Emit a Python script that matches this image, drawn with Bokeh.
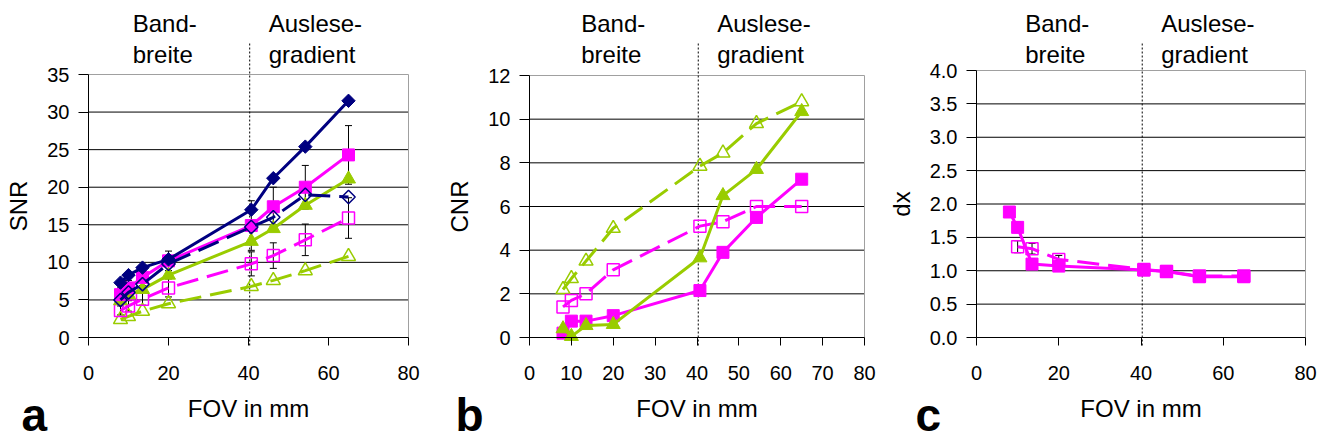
from bokeh.plotting import figure
from bokeh.layouts import row
from bokeh.models import (FixedTicker, NumeralTickFormatter, Range1d, Label, Whisker,
                          TeeHead, ColumnDataSource)
from bokeh.embed import file_html
from bokeh.resources import INLINE
import math

# ---------------- data ----------------
fov = [8, 10, 13.5, 20, 40.7, 46.2, 54.2, 65]
fov_split = 40.3

# panel a: SNR
snr_navy_filled = [7.3, 8.3, 9.3, 10.4, 17.0, 21.2, 25.4, 31.5]
snr_navy_open = [5.0, 6.0, 7.1, 9.8, 14.7, 16.0, 19.0, 18.7]
snr_mag_filled = [5.7, 6.6, 8.0, 10.2, 14.9, 17.4, 20.0, 24.3]
snr_mag_filled_err = [0.9, 1.0, 1.1, 1.3, 3.3, 2.6, 2.9, 3.9]
snr_mag_open = [3.6, 4.2, 5.1, 6.6, 9.8, 10.9, 13.0, 15.9]
snr_mag_open_err = [0.6, 0.7, 0.8, 1.2, 1.6, 1.7, 2.1, 2.7]
snr_grn_filled = [4.9, 5.7, 6.4, 8.3, 12.8, 14.5, 17.6, 21.1]
snr_grn_open = [2.4, 2.8, 3.5, 4.5, 6.8, 7.6, 8.9, 10.8]

# panel b: CNR
cnr_grn_open = [2.2, 2.7, 3.5, 5.0, 7.85, 8.45, 9.8, 10.8]
cnr_grn_filled = [0.4, 0.05, 0.55, 0.6, 3.65, 6.5, 7.7, 10.35]
cnr_mag_open = [1.4, 1.7, 2.0, 3.1, 5.1, 5.3, 6.0, 6.0]
cnr_mag_filled = [0.2, 0.75, 0.75, 1.0, 2.15, 3.9, 5.5, 7.25]

# panel c: dx
dx_filled = [1.88, 1.65, 1.1, 1.07, 1.01, 0.99, 0.91, 0.91]
dx_filled_err = [0.08, 0.08, 0.08, 0.08, 0.08, 0.06, 0.06, 0.06]
fov_dx_open = [10, 13.5, 20, 40.7, 46.2, 54.2, 65]
dx_open = [1.36, 1.33, 1.17, 1.02, 0.99, 0.92, 0.92]
dx_open_err = [0.09, 0.08, 0.06, 0.05, 0.05, 0.05, 0.05]

xticks_a = [0, 20, 40, 60, 80]
xticks_b = [0, 10, 20, 30, 40, 50, 60, 70, 80]
yticks_a = [0, 5, 10, 15, 20, 25, 30, 35]
yticks_b = [0, 2, 4, 6, 8, 10, 12]
yticks_c = [0, 0.5, 1.0, 1.5, 2.0, 2.5, 3.0, 3.5, 4.0]

x_label = "FOV in mm"
left_note = "Band-\nbreite"
right_note = "Auslese-\ngradient"

# ---------------- style ----------------
FONT = "Liberation Sans"
NAVY = "#000080"
MAG = "#FF00FF"
GRN = "#99CC00"
GRAY = "#A0A0A0"
H = 443
AXIS_Y = 337
DASH = "22 9"


def make_panel(offset, width, frame_left, frame_right, y_top_px, xmax, ymax,
               xticks, yticks, ylabel, fmt=None):
    pxu_x = (frame_right - frame_left) / xmax
    pxu_y = (AXIS_Y - y_top_px) / ymax
    left_px = frame_left - offset
    right_px = offset + width - frame_right
    p = figure(width=width, height=H,
               x_range=Range1d(-left_px / pxu_x, xmax + right_px / pxu_x),
               y_range=Range1d(-(H - AXIS_Y) / pxu_y, ymax + y_top_px / pxu_y),
               min_border=0,
               output_backend="svg", toolbar_location=None,
               outline_line_color=None, background_fill_color="white",
               border_fill_color="white")
    p.xgrid.visible = False
    p.ygrid.visible = False

    for ax in (p.xaxis[0], p.yaxis[0]):
        ax.fixed_location = 0
        ax.axis_line_color = "black"
        ax.axis_line_width = 1
        ax.major_tick_line_color = "black"
        ax.minor_tick_line_color = None
        ax.major_tick_in = 0
        ax.major_label_text_font = FONT
        ax.major_label_text_font_size = "20px"
        ax.major_label_text_color = "black"
        ax.axis_label_text_font = FONT
        ax.axis_label_text_font_size = "24px"
        ax.axis_label_text_font_style = "normal"
        ax.axis_label_text_color = "black"
    xa = p.xaxis[0]
    xa.ticker = FixedTicker(ticks=xticks)
    xa.bounds = (0, xmax)
    xa.major_tick_out = 8
    xa.major_label_standoff = 20
    xa.axis_label = x_label
    xa.axis_label_standoff = 12
    ya = p.yaxis[0]
    ya.ticker = FixedTicker(ticks=yticks)
    ya.bounds = (0, ymax)
    ya.major_tick_out = 10
    ya.major_label_standoff = 9
    ya.axis_label = ylabel
    ya.axis_label_standoff = 12
    if fmt:
        ya.formatter = NumeralTickFormatter(format=fmt)

    # horizontal grid lines between the axis and the top frame
    inner = yticks[1:-1]
    p.segment(x0=[0] * len(inner), y0=inner, x1=[xmax] * len(inner), y1=inner,
              line_color="black", line_width=1)
    # gray frame on top and right
    p.segment(x0=[0, xmax], y0=[ymax, 0], x1=[xmax, xmax], y1=[ymax, ymax],
              line_color=GRAY, line_width=1)

    def to_data(cx, cy):
        return (cx - frame_left) / pxu_x, (AXIS_Y - cy) / pxu_y

    # dotted divider line
    x0 = fov_split
    _, yb = to_data(0, 345)
    _, yt = to_data(0, 42)
    p.segment(x0=[x0], y0=[yb], x1=[x0], y1=[yt],
              line_color="black", line_width=1, line_dash="2 2")

    # notes above plot
    split_px = frame_left + fov_split * pxu_x
    for txt, dx in ((left_note, -117), (right_note, 19)):
        for i, line in enumerate(txt.split("\n")):
            x, y = to_data(split_px + dx, 23 + 31 * i)
            p.add_layout(Label(x=x, y=y, text=line, text_font=FONT,
                               text_font_size="24px", text_color="black",
                               text_baseline="alphabetic", text_align="left"))
    return p, to_data


def add_series(p, x, y, color, marker, filled, dashed, size):
    p.line(x, y, line_color=color, line_width=3,
           line_dash=DASH if dashed else "solid")
    kw = dict(marker=marker, size=size, line_color=color)
    if marker == "square" and size < 10:
        kw["angle"] = math.pi / 4
    if filled:
        p.scatter(x, y, fill_color=color, line_width=1, **kw)
    else:
        p.scatter(x, y, fill_color=None, line_width=1.5, **kw)


def add_err(p, x, y, e):
    src = ColumnDataSource(dict(base=x,
                                upper=[v + d for v, d in zip(y, e)],
                                lower=[v - d for v, d in zip(y, e)]))
    p.add_layout(Whisker(source=src, base="base", upper="upper", lower="lower",
                         dimension="height", line_color="black", line_width=1,
                         upper_head=TeeHead(size=7, line_color="black", line_width=1),
                         lower_head=TeeHead(size=7, line_color="black", line_width=1)))


def add_letter(p, to_data, cx, letter):
    x, y = to_data(cx, 414)
    p.add_layout(Label(x=x, y=y, text=letter, text_font=FONT,
                       text_font_size="46px", text_font_style="bold",
                       text_color="black", text_baseline="alphabetic"))


# panel a
pa, da = make_panel(0, 440, 88, 408, 74, 80, 35, xticks_a, yticks_a, "SNR")
add_series(pa, fov, snr_grn_open, GRN, "triangle", False, True, 14)
add_series(pa, fov, snr_mag_open, MAG, "square", False, True, 12)
add_series(pa, fov, snr_grn_filled, GRN, "triangle", True, False, 14)
add_series(pa, fov, snr_mag_filled, MAG, "square", True, False, 12)
add_series(pa, fov, snr_navy_open, NAVY, "square", False, True, 9.5)
add_series(pa, fov, snr_navy_filled, NAVY, "square", True, False, 9.5)
add_err(pa, fov, snr_mag_filled, snr_mag_filled_err)
add_err(pa, fov, snr_mag_open, snr_mag_open_err)
add_letter(pa, da, 21, "a")

# panel b
pb, db = make_panel(440, 440, 529, 864, 75, 80, 12, xticks_b, yticks_b, "CNR")
add_series(pb, fov, cnr_grn_open, GRN, "triangle", False, True, 14)
add_series(pb, fov, cnr_mag_open, MAG, "square", False, True, 12)
add_series(pb, fov, cnr_mag_filled, MAG, "square", True, False, 12)
add_series(pb, fov, cnr_grn_filled, GRN, "triangle", True, False, 14)
add_letter(pb, db, 455, "b")

# panel c
pc, dc = make_panel(880, 439, 976, 1305, 70, 80, 4.0, xticks_a, yticks_c, "dx", fmt="0.0")
add_series(pc, fov_dx_open, dx_open, MAG, "square", False, True, 12)
add_series(pc, fov, dx_filled, MAG, "square", True, False, 12)
add_err(pc, fov, dx_filled, dx_filled_err)
add_err(pc, fov_dx_open, dx_open, dx_open_err)
add_letter(pc, dc, 915, "c")

layout = row(pa, pb, pc, spacing=0)
open("out.html", "w").write(file_html(layout, INLINE))
